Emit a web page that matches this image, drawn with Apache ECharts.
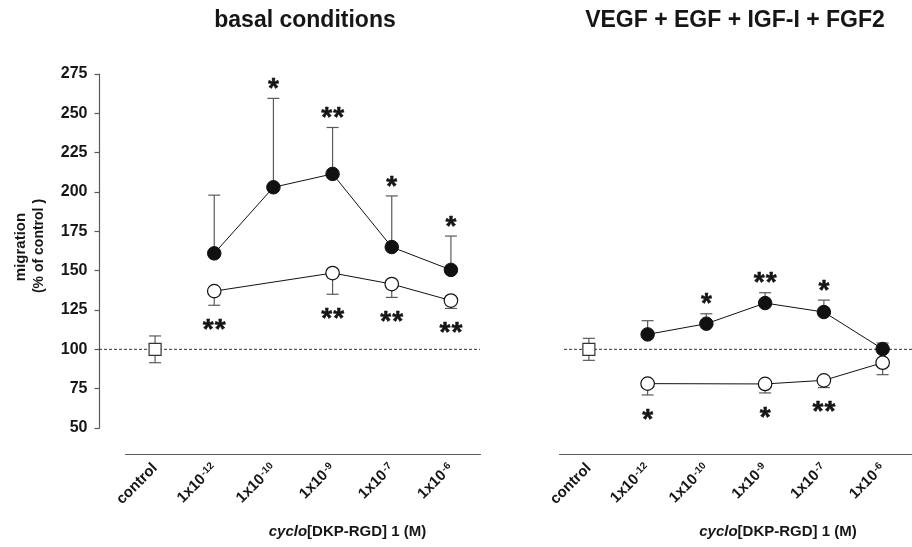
<!DOCTYPE html>
<html><head><meta charset="utf-8">
<script src="https://cdn.jsdelivr.net/npm/echarts@6/dist/echarts.min.js"></script>
<style>html,body{margin:0;padding:0;background:#fff}#c{width:912px;height:547px}</style>
</head><body><div id="c"></div>
<script>
// ---- data ----
const categories = ['control', '-12', '-10', '-9', '-7', '-6'];
const yTicks = { min: 50, max: 275, interval: 25 };
const referenceLevel = 100;

// basal conditions
const basalControl = [100, null, null, null, null, null];
const basalControlSem = [8.5, null, null, null, null, null];
const basalFilled = [null, 161, 203, 211.5, 165, 150.5];
const basalFilledSem = [null, 37, 56.5, 29.5, 32.5, 21.5];
const basalFilledStars = ['', '', '*', '**', '*', '*'];
const basalOpen = [null, 137, null, 148.5, 141.5, 131];
const basalOpenSem = [null, 9, null, 13.5, 8.5, 5];
const basalOpenStars = ['', '**', '', '**', '**', '**'];

// VEGF + EGF + IGF-I + FGF2
const gfControl = [100, null, null, null, null, null];
const gfControlSem = [7, null, null, null, null, null];
const gfFilled = [null, 109.5, 116.3, 129.4, 123.7, 100.2];
const gfFilledSem = [null, 8.7, 6.3, 6.6, 7.6, 3.8];
const gfFilledStars = ['', '', '*', '**', '*', ''];
const gfOpen = [null, 78.2, null, 78, 80.3, 91.5];
const gfOpenSem = [null, 7.2, null, 5.7, 4.6, 7.6];
const gfOpenStars = ['', '*', '', '*', '**', ''];

const panelTitles = ['basal conditions', 'VEGF + EGF + IGF-I + FGF2'];
const xAxisTitle = '{i|cyclo}{n|[DKP-RGD] 1 (M)}';
const yAxisTitle = ['migration', '(% of control )'];

// ---- styling ----
const FF = '"Liberation Sans", Arial, Helvetica, sans-serif';
const TXT = '#161616';
const AX = '#5a5a5a';

function errSeries(axisIdx, values, sems, dir, stars) {
  const data = [];
  values.forEach((v, i) => {
    if (v == null) return;
    const s = sems[i];
    const lo = dir === 'up' ? v : v - s;
    const hi = dir === 'down' ? v : v + s;
    data.push([i, v, lo, hi, i]);
  });
  return {
    type: 'custom', xAxisIndex: axisIdx, yAxisIndex: axisIdx, z: 1, silent: true,
    encode: { x: 0, y: [1, 2, 3] },
    data: data,
    renderItem: function (params, api) {
      const idx = api.value(0);
      const pHi = api.coord([idx, api.value(3)]);
      const pLo = api.coord([idx, api.value(2)]);
      const x = pHi[0];
      const cw = 6;
      const st = { stroke: AX, lineWidth: 1.2 };
      const ch = [{ type: 'line', shape: { x1: x, y1: pHi[1], x2: x, y2: pLo[1] }, style: st }];
      if (dir !== 'down') ch.push({ type: 'line', shape: { x1: x - cw, y1: pHi[1], x2: x + cw, y2: pHi[1] }, style: st });
      if (dir !== 'up') ch.push({ type: 'line', shape: { x1: x - cw, y1: pLo[1], x2: x + cw, y2: pLo[1] }, style: st });
      const star = stars ? stars[api.value(4)] : '';
      if (star) {
        const y = dir === 'up' ? pHi[1] - 9 : pLo[1] + 25;
        const n = star.length;
        for (let k = 0; k < n; k++) {
          ch.push({ type: 'text', style: { text: star[k], x: x + (k - (n - 1) / 2) * 12, y: y, align: 'center', verticalAlign: 'middle',
            font: 'bold 28px ' + FF, fill: TXT, stroke: TXT, lineWidth: 0.5 } });
        }
      }
      return { type: 'group', children: ch };
    }
  };
}

function lineSeries(axisIdx, values, filled) {
  return {
    type: 'line', xAxisIndex: axisIdx, yAxisIndex: axisIdx, z: 3, silent: true,
    data: values, connectNulls: true, symbol: 'circle', symbolSize: 13.5,
    lineStyle: { color: '#111', width: 1 },
    itemStyle: filled ? { color: '#111', borderColor: '#111', borderWidth: 1 }
                      : { color: '#fff', borderColor: '#111', borderWidth: 1.2 },
    animation: false
  };
}

function controlSeries(axisIdx, values) {
  return {
    type: 'line', xAxisIndex: axisIdx, yAxisIndex: axisIdx, z: 3, silent: true,
    data: values, symbol: 'rect', symbolSize: 12, showSymbol: true,
    lineStyle: { width: 0 },
    itemStyle: { color: '#fff', borderColor: '#333', borderWidth: 1.2 },
    animation: false
  };
}

function refSeries(axisIdx) {
  return {
    type: 'line', xAxisIndex: axisIdx, yAxisIndex: axisIdx, z: 0, silent: true,
    data: [[0, referenceLevel], [1, referenceLevel]], symbol: 'none',
    lineStyle: { color: '#333', width: 1, type: [3, 2] }, animation: false
  };
}

function catAxis(gridIndex) {
  return {
    type: 'category', gridIndex: gridIndex, data: categories, offset: 26,
    axisLine: { lineStyle: { color: AX, width: 1.2 } },
    axisTick: { alignWithLabel: true, length: 5, lineStyle: { color: AX, width: 1.2 } },
    axisLabel: {
      rotate: 45, margin: 12, interval: 0,
      formatter: v => v === 'control' ? '{b|control}' : '{b|1x10}{s|' + v + '}',
      rich: {
        b: { fontFamily: FF, fontWeight: 'bold', fontSize: 15, color: TXT },
        s: { fontFamily: FF, fontWeight: 'bold', fontSize: 10, color: TXT, verticalAlign: 'top', padding: [0, 0, 0, 1] }
      }
    },
    splitLine: { show: false }
  };
}

function valAxis(gridIndex, show) {
  return {
    type: 'value', gridIndex: gridIndex, min: yTicks.min, max: yTicks.max, interval: yTicks.interval,
    show: show, offset: 26,
    axisLine: { show: true, lineStyle: { color: AX, width: 1.2 } },
    axisTick: { show: true, length: 5, lineStyle: { color: AX, width: 1.2 } },
    axisLabel: { margin: 12, fontFamily: FF, fontWeight: 'bold', fontSize: 16, color: TXT },
    splitLine: { show: false }
  };
}

const chart = echarts.init(document.getElementById('c'), null, { renderer: 'canvas' });
chart.setOption({
  animation: false,
  backgroundColor: '#fff',
  grid: [
    { left: 125.5, width: 355, top: 74, height: 354 },
    { left: 559.5, width: 355, top: 74, height: 354 },
    { left: 99, width: 381, top: 74, height: 354 },
    { left: 564, width: 348, top: 74, height: 354 }
  ],
  xAxis: [
    catAxis(0), catAxis(1),
    { type: 'value', gridIndex: 2, min: 0, max: 1, show: false },
    { type: 'value', gridIndex: 3, min: 0, max: 1, show: false }
  ],
  yAxis: [
    valAxis(0, true), valAxis(1, false),
    { type: 'value', gridIndex: 2, min: yTicks.min, max: yTicks.max, show: false },
    { type: 'value', gridIndex: 3, min: yTicks.min, max: yTicks.max, show: false }
  ],
  series: [
    refSeries(2), refSeries(3),
    errSeries(0, basalControl, basalControlSem, 'both', null),
    errSeries(0, basalFilled, basalFilledSem, 'up', basalFilledStars),
    errSeries(0, basalOpen, basalOpenSem, 'down', basalOpenStars),
    controlSeries(0, basalControl),
    lineSeries(0, basalFilled, true),
    lineSeries(0, basalOpen, false),
    errSeries(1, gfControl, gfControlSem, 'both', null),
    errSeries(1, gfFilled, gfFilledSem, 'up', gfFilledStars),
    errSeries(1, gfOpen, gfOpenSem, 'down', gfOpenStars),
    controlSeries(1, gfControl),
    lineSeries(1, gfFilled, true),
    lineSeries(1, gfOpen, false)
  ],
  graphic: [
    { type: 'text', x: 305, y: 21, silent: true, style: { text: panelTitles[0], align: 'center', verticalAlign: 'middle', font: 'bold 23px ' + FF, fill: TXT } },
    { type: 'text', x: 735, y: 21, silent: true, style: { text: panelTitles[1], align: 'center', verticalAlign: 'middle', font: 'bold 23px ' + FF, fill: TXT } },
    { type: 'text', x: 347.5, y: 532, silent: true, style: { text: xAxisTitle, align: 'center', verticalAlign: 'middle',
      rich: { i: { fontFamily: FF, fontWeight: 'bold', fontStyle: 'italic', fontSize: 15, fill: TXT }, n: { fontFamily: FF, fontWeight: 'bold', fontSize: 15, fill: TXT } } } },
    { type: 'text', x: 778, y: 532, silent: true, style: { text: xAxisTitle, align: 'center', verticalAlign: 'middle',
      rich: { i: { fontFamily: FF, fontWeight: 'bold', fontStyle: 'italic', fontSize: 15, fill: TXT }, n: { fontFamily: FF, fontWeight: 'bold', fontSize: 15, fill: TXT } } } },
    { type: 'text', x: 21, y: 247, rotation: Math.PI / 2, silent: true, style: { text: yAxisTitle[0], align: 'center', verticalAlign: 'middle', font: 'bold 15px ' + FF, fill: TXT } },
    { type: 'text', x: 39, y: 246, rotation: Math.PI / 2, silent: true, style: { text: yAxisTitle[1], align: 'center', verticalAlign: 'middle', font: 'bold 14px ' + FF, fill: TXT } }
  ]
});
</script>
</body></html>
